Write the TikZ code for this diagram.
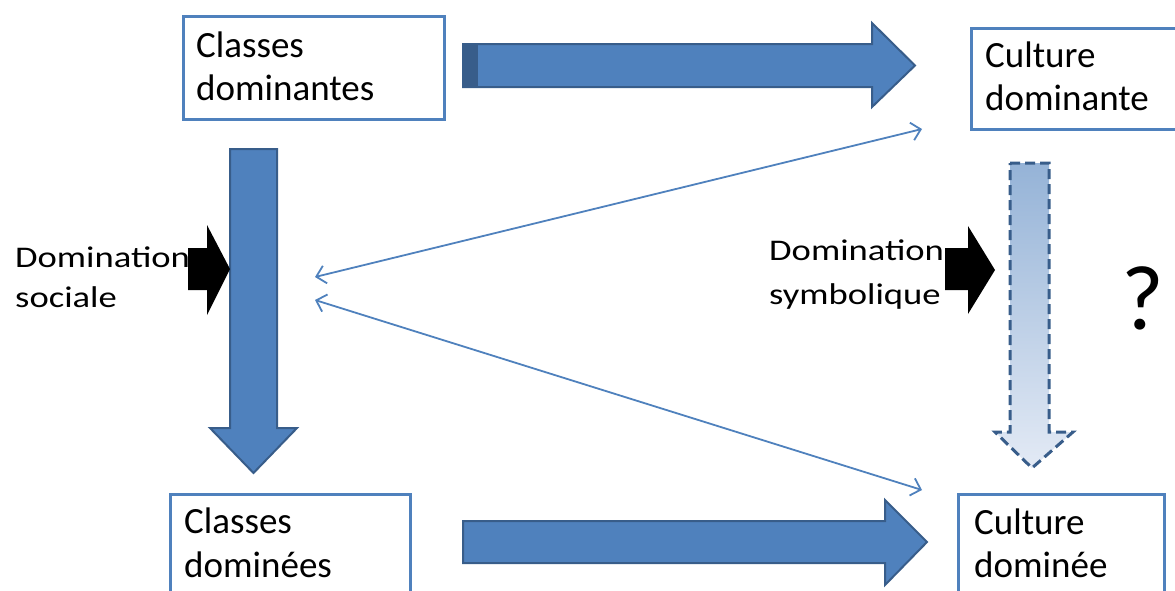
\documentclass[tikz,border=0pt]{standalone}
\usepackage{fontspec}
\setmainfont{Carlito}
\newfontfamily\boxfont{Carlito}
\newfontfamily\labfont[FakeStretch=1.22]{Carlito}
\usetikzlibrary{arrows.meta}
\definecolor{acc}{HTML}{4F81BD}
\definecolor{accd}{HTML}{385D8A}
\definecolor{topg}{HTML}{95B3D7}
\definecolor{botg}{HTML}{E3EAF5}
\tikzset{
  boxframe/.style={draw=acc, line width=2.5pt, fill=white, inner sep=0pt, anchor=north west},
  boxtext/.style={anchor=base west, inner sep=0pt, font=\boxfont\fontsize{37}{43}\selectfont},
  labtext/.style={anchor=base west, inner sep=0pt, font=\labfont\fontsize{30}{40}\selectfont},
  bigarrow/.style={fill=acc, draw=accd, line width=2pt, line join=miter},
  blackarrow/.style={fill=black, draw=none},
  thinarrow/.style={draw=acc, line width=1.8pt, {Straight Barb[length=9pt,width=18pt]}-{Straight Barb[length=9pt,width=18pt]}},
  dasharrow/.style={draw=accd, line width=3pt, dash pattern=on 10pt off 5pt, top color=topg, bottom color=botg}
}
\begin{document}
\begin{tikzpicture}[x=1pt,y=-1pt]
\useasboundingbox (0,0) rectangle (1175,590);

% boxes
\node[boxframe, minimum width=261pt, minimum height=103pt] (cdom) at (182,15) {};
\node[boxframe, minimum width=220pt, minimum height=101pt] (cudom) at (970,27) {};
\node[boxframe, minimum width=240pt, minimum height=110pt] (cdomi) at (169,493) {};
\node[boxframe, minimum width=206pt, minimum height=110pt] (cudomi) at (957,493) {};

\node[boxtext] (t1a) at (196,57) {Classes};
\node[boxtext] (t1b) at (196,100) {dominantes};
\node[boxtext] (t2a) at (985,67) {Culture};
\node[boxtext] (t2b) at (985,110) {dominante};
\node[boxtext] (t3a) at (184,533) {Classes};
\node[boxtext] (t3b) at (184,577) {dominées};
\node[boxtext] (t4a) at (974,534) {Culture};
\node[boxtext] (t4b) at (974,577) {dominée};

% big arrows
\path[bigarrow] (463,44) -- (872,44) -- (872,23) -- (915,65.5) -- (872,107) -- (872,87) -- (463,87) -- cycle;
\fill[accd] (463,44) rectangle (478,87);
\path[bigarrow] (463,521) -- (885,521) -- (885,500) -- (927,542) -- (885,585) -- (885,563) -- (463,563) -- cycle;
\path[bigarrow] (230,149) -- (277,149) -- (277,428) -- (297,428) -- (253.5,473) -- (210,428) -- (230,428) -- cycle;

% dashed arrow
\path[dasharrow] (1010,163) -- (1049,163) -- (1049,432) -- (1073,432) -- (1032,468) -- (995,432) -- (1010,432) -- cycle;

% labels
\node[labtext] (ds1) at (15,267) {Domination};
\node[labtext] (ds2) at (15,307) {sociale};
\node[labtext] (dy1) at (769,260) {Domination};
\node[labtext] (dy2) at (769,304) {symbolique};

% black arrows
\path[blackarrow] (188,248) -- (207,248) -- (207,225) -- (230,269) -- (207,315) -- (207,290) -- (188,290) -- cycle;
\path[blackarrow] (945,248) -- (968,248) -- (968,226) -- (995,270) -- (968,314) -- (968,290) -- (945,290) -- cycle;

% question mark
\node[inner sep=0pt, font=\boxfont\fontsize{92}{100}\selectfont] (q) at (1143,298) {?};

% thin double arrows
\coordinate (la) at (315,277);
\coordinate (ra) at (922,129);
\coordinate (lb) at (315,300);
\coordinate (rb) at (922,490);
\draw[thinarrow] (la) -- (ra);
\draw[thinarrow] (lb) -- (rb);
\end{tikzpicture}
\end{document}
